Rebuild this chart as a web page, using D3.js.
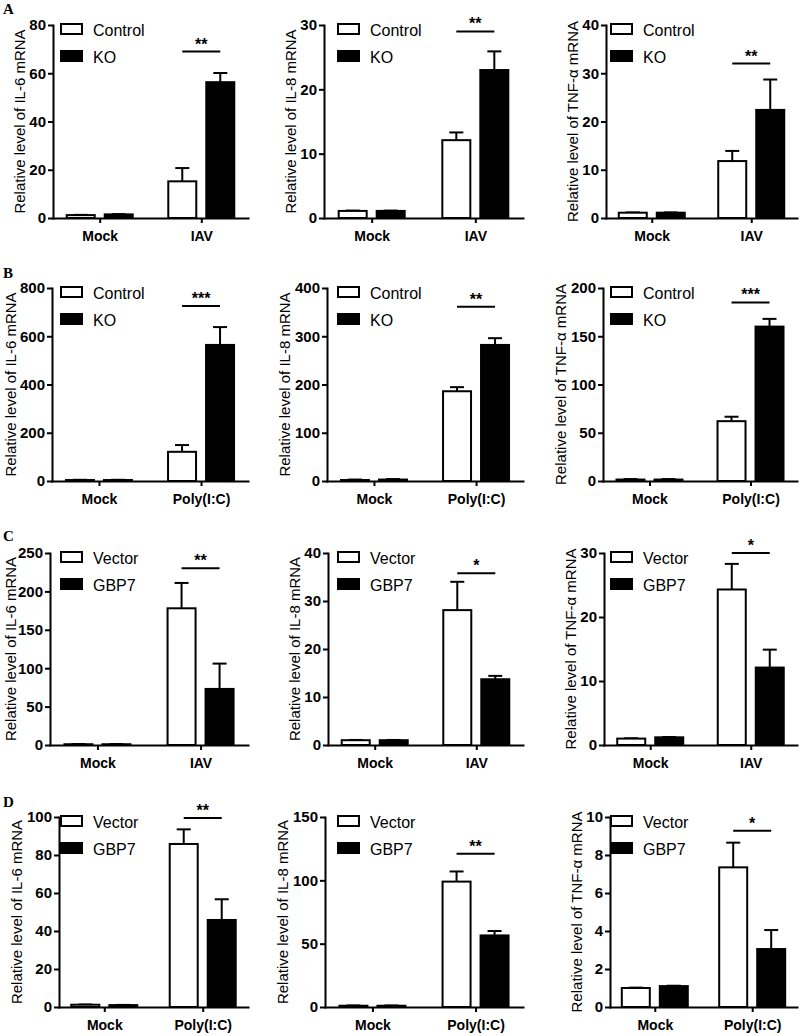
<!DOCTYPE html>
<html><head><meta charset="utf-8">
<script src="https://cdn.jsdelivr.net/npm/d3@7"></script>
<style>body{margin:0;background:#fff} svg{display:block}</style>
</head><body><svg id="c" width="800" height="1036"></svg>
<script>
// ---------- data ----------
const panelLetters = ["A", "B", "C", "D"];
const genes = ["IL-6", "IL-8", "TNF-α"];
const rowGroups = [["Mock", "IAV"], ["Mock", "Poly(I:C)"], ["Mock", "IAV"], ["Mock", "Poly(I:C)"]];
const rowSeries = [["Control", "KO"], ["Control", "KO"], ["Vector", "GBP7"], ["Vector", "GBP7"]];
const yMax  = [[80, 30, 40], [800, 400, 200], [250, 40, 30], [100, 150, 10]];
const yStep = [[20, 10, 10], [200, 100, 50], [50, 10, 10], [20, 50, 2]];
// [row][column][group]
const firstMean = [
  [[1.2, 15.2], [1.1, 12.1], [1.1, 11.8]],
  [[4, 121], [2, 186], [1.5, 62]],
  [[1, 178], [1.0, 28.1], [1.0, 24.3]],
  [[1.2, 85.8], [1, 99], [1.0, 7.35]]
];
const firstErr = [
  [[0.1, 5.5], [0.05, 1.2], [0.05, 2.1]],
  [[1, 28], [1, 8.5], [0.5, 4.6]],
  [[0.2, 33], [0.05, 5.9], [0.05, 4.0]],
  [[0.1, 7.7], [0.2, 8], [0.02, 1.3]]
];
const secondMean = [
  [[1.5, 56.3], [1.1, 23.0], [1.1, 22.4]],
  [[4, 564], [3, 282], [1.5, 160]],
  [[1, 73], [1.0, 13.7], [1.2, 12.1]],
  [[1.0, 45.8], [1, 56.5], [1.1, 3.05]]
];
const secondErr = [
  [[0.1, 3.8], [0.05, 2.9], [0.05, 6.3]],
  [[1, 74], [1, 14], [0.5, 8]],
  [[0.2, 33], [0.05, 0.7], [0.05, 2.8]],
  [[0.1, 10.9], [0.2, 3.5], [0.02, 1.0]]
];
const sigLabel = [["**", "**", "**"], ["***", "**", "***"], ["**", "*", "*"], ["**", "**", "*"]];
const sigLevel = [[69, 29, 32], [725, 361, 185], [230, 35.8, 30], [99.5, 121, 9.27]];

// ---------- layout ----------
const axisLeft = [[53, 324, 606], [52, 327, 603], [50, 328, 604], [59, 325, 610]];
const colRight = [248, 523, 797];
const rowTop = [25, 288, 553, 817];
const rowBottom = [218, 481, 745, 1007];
const legendX = [61, 338, 611];
const letterY = [14, 278, 541, 807];
const FONT = "'Liberation Sans', Arial, Helvetica, sans-serif";

const svg = d3.select("#c");
svg.append("rect").attr("width", 800).attr("height", 1036).attr("fill", "#fff");

panelLetters.forEach((L, r) => {
  svg.append("text").attr("x", 3).attr("y", letterY[r])
    .attr("font-family", "'Liberation Serif', 'Times New Roman', serif")
    .attr("font-weight", "bold").attr("font-size", 15).text(L);

  genes.forEach((gene, c) => {
    const left = axisLeft[r][c], right = colRight[c];
    const top = rowTop[r], bottom = rowBottom[r];
    const groups = rowGroups[r], series = rowSeries[r];
    const y = d3.scaleLinear().domain([0, yMax[r][c]]).range([bottom, top]);
    const x = d3.scalePoint().domain(groups).range([left, right]).padding(0.46);
    const xs = d3.scaleBand().domain(series).range([-38, 38]).paddingInner(10 / 38).paddingOuter(5 / 38);
    const g = svg.append("g");

    const rows = [];
    groups.forEach((grp, gi) => {
      rows.push({grp, s: series[0], m: firstMean[r][c][gi], e: firstErr[r][c][gi], fill: "#fff"});
      rows.push({grp, s: series[1], m: secondMean[r][c][gi], e: secondErr[r][c][gi], fill: "#000"});
    });

    // error bars
    rows.forEach(d => {
      const cx = x(d.grp) + xs(d.s) + xs.bandwidth() / 2;
      g.append("line").attr("x1", cx).attr("x2", cx).attr("y1", y(d.m)).attr("y2", y(d.m + d.e))
        .attr("stroke", "#000").attr("stroke-width", 2);
      g.append("line").attr("x1", cx - 7).attr("x2", cx + 7).attr("y1", y(d.m + d.e)).attr("y2", y(d.m + d.e))
        .attr("stroke", "#000").attr("stroke-width", 2);
    });
    // bars
    g.selectAll("rect.bar").data(rows).join("rect").attr("class", "bar")
      .attr("x", d => x(d.grp) + xs(d.s))
      .attr("width", xs.bandwidth())
      .attr("y", d => y(d.m))
      .attr("height", d => y(0) - y(d.m))
      .attr("fill", d => d.fill).attr("stroke", "#000").attr("stroke-width", 2);

    // y axis
    const ticks = d3.range(0, yMax[r][c] + yStep[r][c] / 2, yStep[r][c]);
    const ya = g.append("g").attr("transform", `translate(${left},0)`)
      .call(d3.axisLeft(y).tickValues(ticks).tickSize(5).tickSizeOuter(0).tickPadding(2));
    ya.select(".domain").attr("stroke-width", 2).attr("stroke-linecap", "square");
    ya.selectAll(".tick line").attr("stroke-width", 2);
    ya.selectAll("text").attr("font-family", FONT).attr("font-size", 15).attr("font-weight", "bold").attr("fill", "#000");

    // x axis
    const xa = g.append("g").attr("transform", `translate(0,${bottom})`)
      .call(d3.axisBottom(x).tickSize(5).tickSizeOuter(0).tickPadding(8));
    xa.select(".domain").attr("stroke-width", 2).attr("stroke-linecap", "square");
    xa.selectAll(".tick line").attr("stroke-width", 2);
    xa.selectAll("text").attr("font-family", FONT).attr("font-size", 14).attr("font-weight", "bold").attr("fill", "#000");

    // y title
    const bb = ya.node().getBBox();
    const tx = Math.max(left + bb.x - 10, 10);
    g.append("text").attr("transform", `translate(${tx},${(top + bottom) / 2}) rotate(-90)`)
      .attr("text-anchor", "middle").attr("dominant-baseline", "central")
      .attr("font-family", FONT).attr("font-size", 15).attr("fill", "#000")
      .text(`Relative level of ${gene} mRNA`);

    // legend
    series.forEach((s, si) => {
      const by = top - 1 + si * 27;
      g.append("rect").attr("x", legendX[c]).attr("y", by).attr("width", 21).attr("height", 10)
        .attr("fill", si === 0 ? "#fff" : "#000").attr("stroke", "#000").attr("stroke-width", 2);
      g.append("text").attr("x", legendX[c] + 32).attr("y", by + 12)
        .attr("font-family", FONT).attr("font-size", 16).attr("fill", "#000").text(s);
    });

    // significance
    const g2 = groups[1];
    const x1 = x(g2) + xs(series[0]) + xs.bandwidth() / 2;
    const x2 = x(g2) + xs(series[1]) + xs.bandwidth() / 2;
    const sy = y(sigLevel[r][c]);
    g.append("line").attr("x1", x1).attr("x2", x2).attr("y1", sy).attr("y2", sy)
      .attr("stroke", "#000").attr("stroke-width", 2);
    g.append("text").attr("x", (x1 + x2) / 2).attr("y", sy - 2).attr("text-anchor", "middle")
      .attr("font-family", FONT).attr("font-size", 16).attr("font-weight", "bold").text(sigLabel[r][c]);
  });
});
</script></body></html>
